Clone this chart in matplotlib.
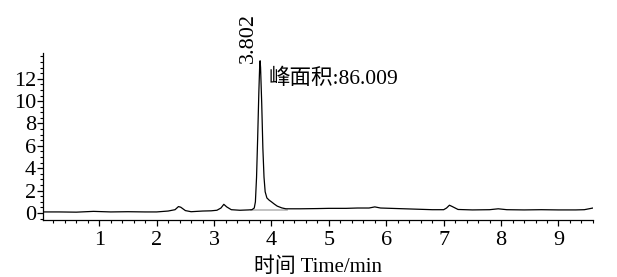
import matplotlib
matplotlib.use("Agg")
import matplotlib.pyplot as plt
from matplotlib.ticker import MultipleLocator

plt.rcParams['font.family'] = ['Liberation Serif', 'Noto Sans CJK SC']
plt.rcParams['mathtext.fontset'] = 'stix'

# chromatogram trace (time in min, signal)
time = [0.02, 0.3, 0.6, 0.9, 1.2, 1.5, 1.8, 2.0, 2.2, 2.32, 2.38, 2.42, 2.5, 2.6,
        2.8, 2.95, 3.05, 3.12, 3.17, 3.22, 3.3, 3.45, 3.6, 3.66, 3.70, 3.72, 3.74,
        3.76, 3.78, 3.795, 3.802, 3.81, 3.83, 3.85, 3.87, 3.89, 3.92, 3.96, 4.00,
        4.05, 4.10, 4.18, 4.25, 4.5, 4.8, 5.0, 5.3, 5.5, 5.7, 5.8, 5.9, 6.2, 6.5,
        6.8, 7.0, 7.05, 7.1, 7.15, 7.25, 7.5, 7.8, 7.95, 8.1, 8.4, 8.7, 9.0, 9.3,
        9.45, 9.6]
signal = [0.10, 0.10, 0.08, 0.15, 0.10, 0.12, 0.10, 0.10, 0.18, 0.30, 0.58, 0.52,
          0.22, 0.12, 0.18, 0.20, 0.25, 0.45, 0.78, 0.55, 0.30, 0.25, 0.28, 0.30,
          0.45, 1.0, 3.2, 6.8, 10.8, 13.2, 13.6, 13.0, 9.8, 5.8, 3.2, 1.9, 1.35,
          1.15, 1.0, 0.8, 0.62, 0.46, 0.38, 0.38, 0.40, 0.42, 0.42, 0.45, 0.45,
          0.55, 0.45, 0.40, 0.35, 0.30, 0.30, 0.45, 0.70, 0.58, 0.32, 0.28, 0.30,
          0.38, 0.30, 0.28, 0.30, 0.28, 0.28, 0.30, 0.45]

# integration baseline under the main peak
base_time = [3.64, 4.27]
base_signal = [0.30, 0.30]

peak_rt = 3.802
peak_label = "3.802"
area_label = "峰面积:86.009"
xlabel = "时间 Time/min"
xticks = [1, 2, 3, 4, 5, 6, 7, 8, 9]
yticks = [0, 2, 4, 6, 8, 10, 12]

fig = plt.figure(figsize=(6.17, 2.77), dpi=100)
ax = fig.add_axes([0.0697, 0.2058, 0.8913, 0.603])

ax.plot(base_time, base_signal, color='#b8b8b8', lw=1.2)
ax.plot(time, signal, color='black', lw=0.9)

ax.set_xlim(0.02, 9.6)
ax.set_ylim(-0.62, 14.3)
ax.set_xticks(xticks)
ax.set_yticks(yticks)
ax.xaxis.set_minor_locator(MultipleLocator(0.2))
ax.yaxis.set_minor_locator(MultipleLocator(0.5))

for s in ['top', 'right']:
    ax.spines[s].set_visible(False)
for s in ['left', 'bottom']:
    ax.spines[s].set_linewidth(0.9)

ax.tick_params(axis='both', which='major', direction='out', length=4, width=0.9,
               labelsize=16, pad=1)
ax.tick_params(axis='both', which='minor', direction='out', length=2.5, width=0.8)
ax.tick_params(axis='x', which='major', pad=4)

ax.text(peak_rt - 0.2, 13.4, peak_label, rotation=90, ha='center', va='bottom',
        fontsize=16)
ax.text(3.94, 12.0, area_label, ha='left', va='center', fontsize=15.5)

ax.set_xlabel(xlabel, fontsize=15, labelpad=5)

fig.savefig("out.png", dpi=100)
